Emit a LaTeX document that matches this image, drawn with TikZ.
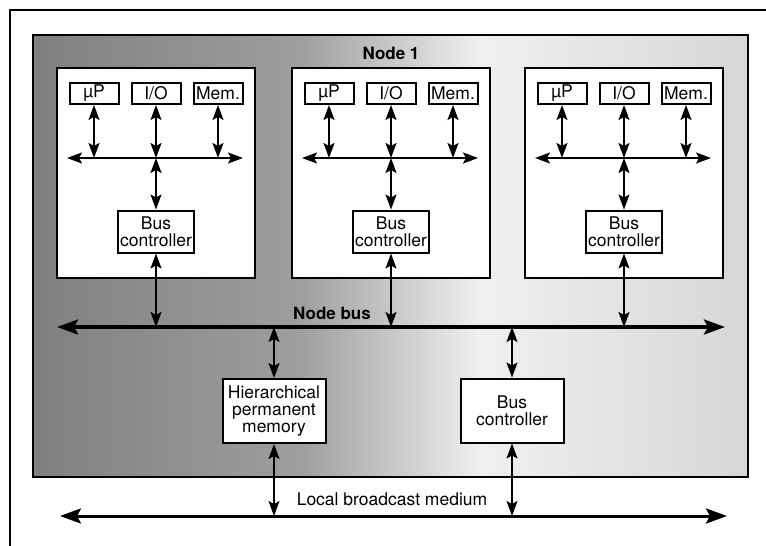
\documentclass[tikz,border=0pt]{standalone}
\usepackage{fontspec}
\setmainfont{TeX Gyre Heros}
\usetikzlibrary{arrows.meta}
\tikzset{
  unitbox/.style={draw, line width=2pt, fill=white, inner sep=0pt, minimum width=49pt, minimum height=21pt},
  ctrlbox/.style={draw, line width=2pt, fill=white, align=center, inner sep=0pt, minimum width=76pt, minimum height=42pt},
  bigbox/.style={draw, line width=2pt, fill=white, align=center, inner sep=0pt, minimum width=103pt, minimum height=64pt},
  link/.style={{Stealth[length=15pt,width=11pt,inset=3pt]}-{Stealth[length=15pt,width=11pt,inset=3pt]}, line width=1.8pt},
  thinlink/.style={link, line width=1.1pt},
  mainbus/.style={{Stealth[length=21pt,width=15pt,inset=4pt]}-{Stealth[length=21pt,width=15pt,inset=4pt]}, line width=3.5pt},
}
\begin{document}
\begin{tikzpicture}[x=1pt, y=-1pt, font=\fontsize{17.5}{17}\selectfont]
  \useasboundingbox (0,0) rectangle (766,546);
  %page edge, only top and left are seen
  \draw[line width=1.2pt] (10,546) -- (10,10) -- (766,10);

  %shaded area of node 1 (dark on the left, light on the right)
  \shade[left color=black!50, right color=black!38] (33,35) rectangle (300,477);
  \shade[left color=black!38, right color=black!6] (300,35) rectangle (480,477);
  \shade[left color=black!6, right color=black!16] (480,35) rectangle (748,477);
  \draw[line width=2.6pt] (33,35) rectangle (748,477);
  \node[font=\fontsize{17}{17}\selectfont\bfseries] (nodetitle) at (391,53) {Node 1};

  %bus ends
  \coordinate (nbl) at (57,327);
  \coordinate (nbr) at (725,327);
  \coordinate (lbl) at (60,516);
  \coordinate (lbr) at (727,516);

  %the three processor modules
  \foreach \m/\cx in {1/156, 2/391, 3/624} {
    \node[draw, line width=2pt, fill=white, minimum width=198pt, minimum height=210pt] (mod\m) at (\cx,173) {};
    \node[unitbox] (up\m) at (\cx-62,93.5) {µP};
    \node[unitbox] (io\m) at (\cx,93.5) {I/O};
    \node[unitbox] (mem\m) at (\cx+62,93.5) {Mem.};
    \node[ctrlbox] (ctl\m) at (\cx,231.5) {Bus\\controller};
    %local bus
    \coordinate (bl\m) at (\cx-89,158);
    \coordinate (br\m) at (\cx+87,158);
    \draw[link] (bl\m) -- (br\m);
    \draw[link] (up\m) -- (up\m |- bl\m);
    \draw[link] (io\m) -- (io\m |- bl\m);
    \draw[link] (mem\m) -- (mem\m |- bl\m);
    \draw[link] (io\m |- bl\m) -- (ctl\m);
    \draw[link] (ctl\m) -- (ctl\m |- nbl);
  }

  %node bus
  \draw[mainbus] (nbl) -- (nbr);
  \node[font=\fontsize{17}{17}\selectfont\bfseries] (nodebus) at (332,313) {Node bus};

  %lower boxes
  \node[bigbox] (hpm) at (274,411) {Hierarchical\\permanent\\memory};
  \node[bigbox] (lctl) at (512,410.5) {Bus\\controller};
  \draw[link] (hpm) -- (hpm |- nbl);
  \draw[link] (lctl) -- (lctl |- nbl);

  %local broadcast medium
  \draw[mainbus, line width=3pt] (lbl) -- (lbr);
  \node (lbm) at (392,499) {Local broadcast medium};
  \draw[thinlink] (hpm) -- (hpm |- lbl);
  \draw[thinlink] (lctl) -- (lctl |- lbl);
\end{tikzpicture}
\end{document}
